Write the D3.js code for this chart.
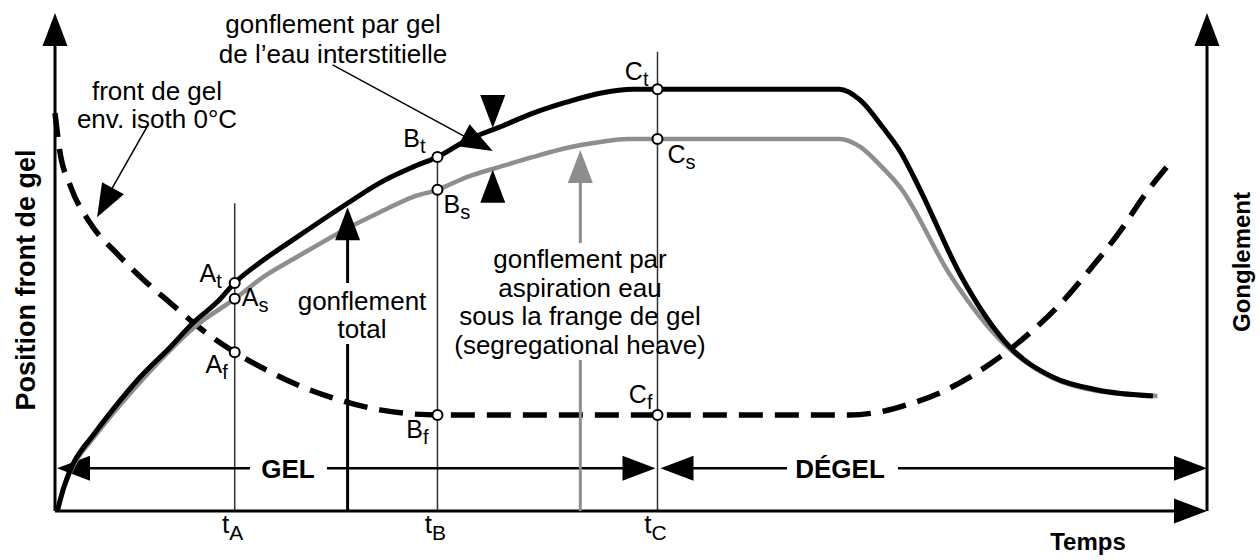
<!DOCTYPE html>
<html>
  <head>
    <meta charset="utf-8">
    <title>Gonflement par gel</title>
    <script src="https://cdn.jsdelivr.net/npm/d3@7"></script>
    <style>
      body { margin: 0; background: #fff; }
      text { font-family: "Liberation Sans", Arial, Helvetica, sans-serif; fill: #000; }
    </style>
  </head>
  <body>
    <div id="main"></div>
    <script>
      var WIDTH = 1260, HEIGHT = 560;
      var LEFT = 55, RIGHT = 1207, TOP = 13, BOTTOM = 511;
      var GRAY = '#8e8e8e';

      // [time, value] on a 0-100 scale
      var heaveTotal = [[0.2,0],[0.8,5.0],[1.6,9.6],[2.3,12.2],[3.0,14.3],[5.0,20.3],[7.4,26.9],[10.0,32.9],[12.0,37.8],
        [14.1,42.0],[15.6,45.8],[18.1,50.4],[21.0,55.0],[25.4,61.8],[28.2,65.9],[31.1,69.1],
        [33.2,71.1],[35.8,74.5],[38.6,77.1],[41.5,79.9],[44.4,82.1],[47.3,83.9],[50.2,84.7],
        [52.3,84.7],[68.1,84.7],[69.9,82.5],[71.9,76.9],[73.4,72.1],[75.1,64.5],[78.6,47.4],
        [82.9,32.9],[86.6,26.9],[90.5,24.3],[95.3,23.1]];
      var heaveSegregation = [[0.2,0],[0.8,4.8],[1.6,9.2],[2.3,11.7],[3.0,13.7],[5.0,19.5],[7.4,25.9],[9.4,30.9],[12.3,37.3],
        [15.6,42.6],[18.1,47.0],[21.0,51.0],[25.4,56.8],[28.2,60.0],[31.1,63.1],[33.2,64.5],
        [35.8,67.1],[38.6,69.1],[41.5,71.1],[44.4,72.9],[47.3,74.1],[49.7,74.7],[52.3,74.7],
        [68.1,74.7],[69.9,73.1],[71.6,69.5],[73.4,64.9],[77.7,47.4],[82.5,33.3],[86.6,26.7],
        [90.5,24.1],[95.7,23.1]];
      var frostFront = [[0,79.9],[0.4,72.5],[1.3,65.5],[3.0,58.0],[5.5,51.4],[7.8,46.2],[10.2,41.4],
        [12.6,36.7],[15.6,31.9],[18.7,27.9],[21.7,24.7],[24.7,22.3],[28.2,20.3],[33.2,19.3],
        [69.0,19.3],[71.6,19.9],[74.2,21.5],[76.8,23.7],[79.4,26.9],[82.0,30.9],[84.6,35.7],
        [87.2,41.4],[89.8,48.4],[92.4,56.0],[94.6,63.5],[96.8,69.9]];

      var tickNames = ['A', 'B', 'C'];
      var tickTimes = [15.6, 33.2, 52.3];
      var tickTops = [61.8, 71.1, 92.2];

      var pointNames = ['A','A','A','B','B','B','C','C','C'];
      var pointSubs = ['t','s','f','t','s','f','t','s','f'];
      var pointTimes = [15.6,15.6,15.6,33.2,33.2,33.2,52.3,52.3,52.3];
      var pointValues = [45.8,42.6,31.9,71.1,64.5,19.3,84.7,74.7,19.3];

      var phaseBar = 8.6;
      var totalArrowTime = 25.4, totalArrowTip = 61.0;
      var segArrowTime = 45.6, segArrowTip = 72.5;
      var gelArrowTime = 38.0, gelArrowTips = [76.9, 68.5];

      var x = d3.scaleLinear().domain([0, 100]).range([LEFT, RIGHT]);
      var y = d3.scaleLinear().domain([0, 100]).range([BOTTOM, TOP]);

      var svg = d3.select('#main').append('svg')
                  .attr('width', WIDTH).attr('height', HEIGHT);

      function seg(x1, y1, x2, y2, color, w) {
        svg.append('line')
          .attr('x1', x1).attr('y1', y1).attr('x2', x2).attr('y2', y2)
          .attr('stroke', color).attr('stroke-width', w);
      }

      // filled triangle with its tip at (tx,ty), pointing away from (fx,fy)
      function head(tx, ty, fx, fy, color) {
        var L = 33, W = 12.5;
        var a = Math.atan2(ty - fy, tx - fx);
        var bx = tx - L * Math.cos(a), by = ty - L * Math.sin(a);
        var px = -Math.sin(a) * W, py = Math.cos(a) * W;
        svg.append('path')
          .attr('d', 'M' + tx + ',' + ty + 'L' + (bx + px) + ',' + (by + py) + 'L' + (bx - px) + ',' + (by - py) + 'Z')
          .attr('fill', color || '#000');
      }

      function block(lines, cx, y0, step, size, weight) {
        lines.forEach(function(s, i) {
          svg.append('text').attr('x', cx).attr('y', y0 + i * step)
            .attr('text-anchor', 'middle').attr('font-size', size)
            .attr('font-weight', weight || 'normal').text(s);
        });
      }

      // thin guide lines at tA, tB, tC
      tickTimes.forEach(function(t, i) {
        seg(x(t), y(tickTops[i]), x(t), y(0), '#333', 1.5);
      });

      // axes
      seg(x(0), y(0), x(0), y(100) + 20, '#000', 3);
      head(x(0), y(100), x(0), y(0));
      seg(x(100), y(0), x(100), y(100) + 20, '#000', 3);
      head(x(100), y(100), x(100), y(0));
      seg(x(0), y(0), x(100) - 20, y(0), '#000', 3);
      head(x(100), y(0), x(0), y(0));

      // GEL / DÉGEL bar
      var yb = y(phaseBar);
      seg(x(0) + 20, yb, 250, yb, '#000', 2.5);
      seg(327, yb, x(tickTimes[2]) - 20, yb, '#000', 2.5);
      head(x(0) + 2, yb, x(10), yb);
      head(x(tickTimes[2]) - 2, yb, x(0), yb);
      seg(x(tickTimes[2]) + 20, yb, 787, yb, '#000', 2.5);
      seg(898, yb, x(100) - 20, yb, '#000', 2.5);
      head(x(tickTimes[2]) + 3, yb, x(100), yb);
      head(x(100), yb, x(0), yb);
      svg.append('text').attr('x', 288).attr('y', yb + 9.5).attr('text-anchor', 'middle')
        .attr('font-size', 26).attr('font-weight', 'bold').text('GEL');
      svg.append('text').attr('x', 840).attr('y', yb + 9.5).attr('text-anchor', 'middle')
        .attr('font-size', 26).attr('font-weight', 'bold').text('DÉGEL');

      // curves
      var line = d3.line()
        .x(function(d) { return x(d[0]); })
        .y(function(d) { return y(d[1]); })
        .curve(d3.curveMonotoneX);

      svg.append('path').datum(frostFront).attr('d', line)
        .attr('fill', 'none').attr('stroke', '#000').attr('stroke-width', 5.5)
        .attr('stroke-dasharray', '24,12');
      svg.append('path').datum(heaveSegregation).attr('d', line)
        .attr('fill', 'none').attr('stroke', GRAY).attr('stroke-width', 4.5);
      svg.append('path').datum(heaveTotal).attr('d', line)
        .attr('fill', 'none').attr('stroke', '#000').attr('stroke-width', 5);

      // gonflement total arrow
      var xt = x(totalArrowTime);
      seg(xt, y(totalArrowTip) + 20, xt, 283, '#000', 3);
      seg(xt, 344, xt, y(0), '#000', 3);
      head(xt, y(totalArrowTip), xt, y(0));
      block(['gonflement', 'total'], 362, 310, 28, 26);

      // segregational heave arrow
      var xs = x(segArrowTime);
      seg(xs, y(segArrowTip) + 20, xs, 243, GRAY, 3);
      seg(xs, 360, xs, y(0), GRAY, 3);
      head(xs, y(segArrowTip), xs, y(0), GRAY);
      block(['gonflement par', 'aspiration eau', 'sous la frange de gel', '(segregational heave)'], 580, 268, 28.5, 26);

      // pair of arrows pinching the gap between the curves
      var xg = x(gelArrowTime);
      head(xg, y(gelArrowTips[0]), xg, 0);
      head(xg, y(gelArrowTips[1]), xg, HEIGHT);

      // leader for "gonflement par gel"
      seg(x(24.1), y(89.6), x(38.0) - 20, y(72.3) - 10, '#000', 1.5);
      head(x(38.0), y(72.3), x(24.1), y(89.6));
      block(['gonflement par gel', 'de l’eau interstitielle'], 333, 33, 29.5, 26);

      // leader for the frost front
      seg(x(8.07), y(77.5), x(3.65) + 10, y(59.0) - 20, '#000', 1.5);
      head(x(3.65), y(59.0), x(8.07), y(77.5));
      block(['front de gel', 'env. isoth 0°C'], 157, 100, 28, 26);

      // tick labels
      tickNames.forEach(function(n, i) {
        var t = svg.append('text').attr('x', x(tickTimes[i]) - 2).attr('y', 533)
          .attr('text-anchor', 'middle').attr('font-size', 26);
        t.append('tspan').text('t');
        t.append('tspan').attr('font-size', 21).attr('dy', 7).text(n);
      });

      // point markers and their labels
      var labelDx = [-13, 7, -7, -12, 6, -9, -9, 10, -5];
      var labelDy = [-1, 7, 21, -10, 23, 23, -9, 24, -12];
      pointNames.forEach(function(n, i) {
        var px = x(pointTimes[i]), py = y(pointValues[i]);
        var t = svg.append('text').attr('x', px + labelDx[i]).attr('y', py + labelDy[i])
          .attr('text-anchor', labelDx[i] < 0 ? 'end' : 'start').attr('font-size', 25);
        t.append('tspan').text(n);
        t.append('tspan').attr('font-size', 20).attr('dy', 6).text(pointSubs[i]);
      });
      svg.selectAll('.pt').data(pointNames).enter()
        .append('circle')
          .attr('class', 'pt')
          .attr('cx', function(d, i) { return x(pointTimes[i]); })
          .attr('cy', function(d, i) { return y(pointValues[i]); })
          .attr('r', 5)
          .attr('fill', '#fff').attr('stroke', '#000').attr('stroke-width', 2);

      // axis titles
      svg.append('text').attr('transform', 'translate(35,280) rotate(-90)')
        .attr('text-anchor', 'middle').attr('font-size', 27).attr('font-weight', 'bold')
        .text('Position front de gel');
      svg.append('text').attr('transform', 'translate(1250,262) rotate(-90)')
        .attr('text-anchor', 'middle').attr('font-size', 24).attr('font-weight', 'bold')
        .text('Gonglement');
      svg.append('text').attr('x', 1088).attr('y', 550).attr('text-anchor', 'middle')
        .attr('font-size', 24).attr('font-weight', 'bold').text('Temps');
    </script>
  </body>
</html>
